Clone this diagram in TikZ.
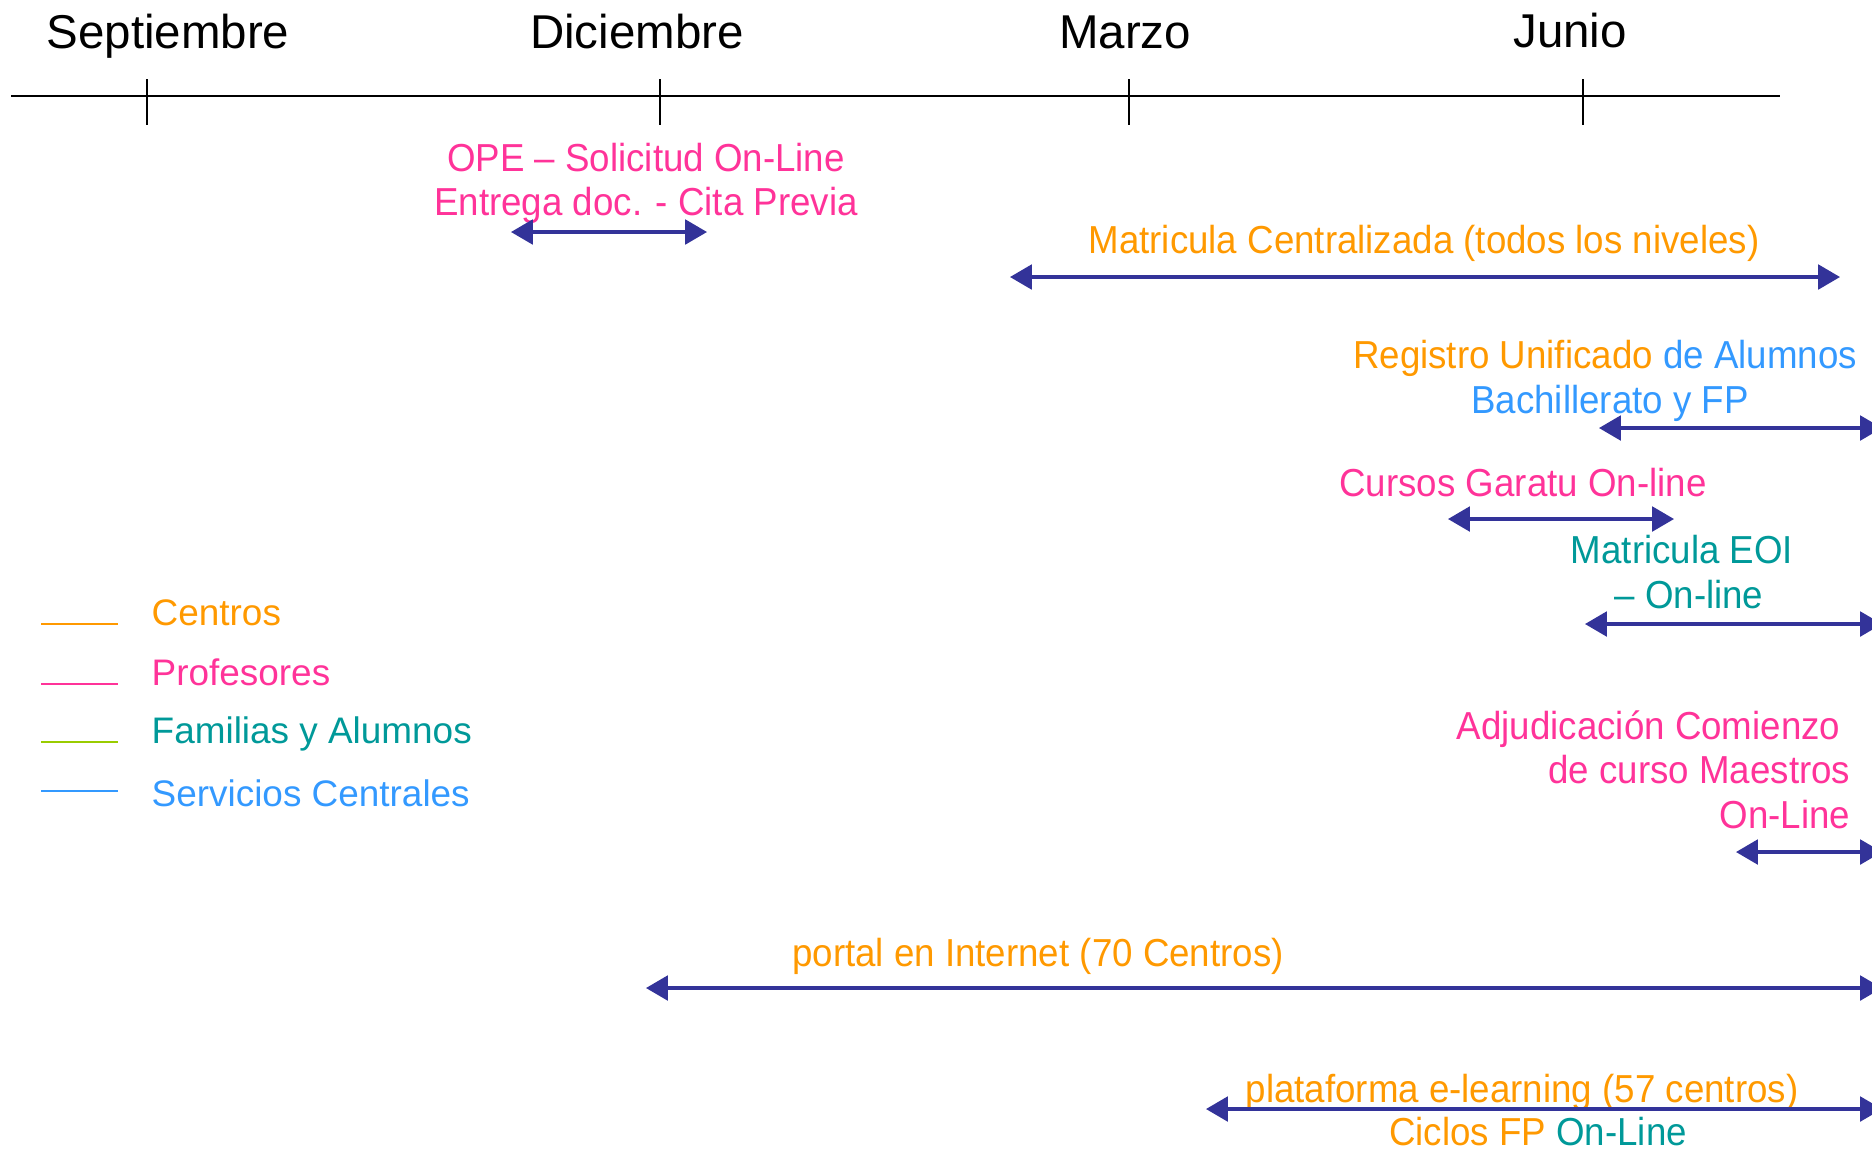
\documentclass[tikz,border=0pt]{standalone}
\usepackage{fontspec}
\setmainfont{Liberation Sans}
\newfontfamily\lblfont[FakeStretch=0.94]{Liberation Sans}
\usetikzlibrary{arrows.meta}
\definecolor{centros}{HTML}{FF9900}
\definecolor{profes}{HTML}{FF3399}
\definecolor{familias}{HTML}{009999}
\definecolor{servicios}{HTML}{3399FF}
\definecolor{verde}{HTML}{99CC00}
\definecolor{flecha}{HTML}{333399}
\tikzset{month/.style={anchor=base, inner sep=0pt, font=\fontsize{13.5}{16}\selectfont},
lbl/.style={anchor=base, inner sep=0pt, font=\lblfont\fontsize{11.1}{13}\selectfont},
legtext/.style={anchor=base west, inner sep=0pt, font=\fontsize{10.5}{12}\selectfont},
legline/.style={line width=0.6pt},
period/.style={arrows={Triangle[length=6.2pt,width=7pt]-Triangle[length=6.2pt,width=7pt]}, draw=flecha, line width=0.9pt},
mtick/.style={line width=0.45pt}}
\begin{document}
\begin{tikzpicture}[x=0.01cm, y=-0.01cm]
        \useasboundingbox (0,0) rectangle (1872,1150);

        \coordinate (axL) at (11,96);
        \coordinate (axR) at (1780,96);
        \draw[line width=0.6pt] (axL) -- (axR);
        \foreach \x/\n in {147/sep, 660/dic, 1129/mar, 1583/jun} {
            \coordinate (\n t) at (\x,79);
            \coordinate (\n b) at (\x,125);
            \draw[mtick] (\n t) -- (\n b);
        }
        \node[month] (sep) at (168,48) {Septiembre};
        \node[month] (dic) at (637,48) {Diciembre};
        \node[month] (mar) at (1125,48) {Marzo};
        \node[month] (jun) at (1570,47) {Junio};

        \node[lbl, text=profes] (ope1) at (646,171) {OPE – Solicitud On-Line};
        \node[lbl, text=profes] (ope2) at (646,215) {Entrega doc. - Cita Previa};
        \coordinate (opeL) at (511,232);
        \coordinate (opeR) at (707,232);

        \node[lbl, text=centros] (mat) at (1424,253) {Matricula Centralizada (todos los niveles)};
        \coordinate (matL) at (1010,277);
        \coordinate (matR) at (1840,277);

        \node[lbl] (reg1) at (1605,368) {\color{centros}Registro Unificado \color{servicios}de Alumnos};
        \node[lbl, text=servicios] (reg2) at (1610,413) {Bachillerato y FP};
        \coordinate (regL) at (1599,428);
        \coordinate (regR) at (1882,428);

        \node[lbl, text=profes] (gar) at (1523,496) {Cursos Garatu On-line};
        \coordinate (garL) at (1448,519);
        \coordinate (garR) at (1674,519);

        \node[lbl, text=familias] (eoi1) at (1682,563) {Matricula EOI};
        \node[lbl, text=familias] (eoi2) at (1689,608) {– On-line};
        \coordinate (eoiL) at (1585,624);
        \coordinate (eoiR) at (1882,624);

        \node[lbl, anchor=base east, text=profes] (adj1) at (1841,739) {Adjudicación Comienzo};
        \node[lbl, anchor=base east, text=profes] (adj2) at (1851,783) {de curso Maestros};
        \node[lbl, anchor=base east, text=profes] (adj3) at (1851,828) {On-Line};
        \coordinate (adjL) at (1736,852);
        \coordinate (adjR) at (1882,852);

        \node[lbl, text=centros] (por) at (1038,966) {portal en Internet (70 Centros)};
        \coordinate (porL) at (646,988);
        \coordinate (porR) at (1882,988);

        \node[lbl, text=centros] (pla) at (1522,1102) {plataforma e-learning (57 centros)};
        \node[lbl] (cic) at (1538,1145) {\color{centros}Ciclos FP \color{familias}On-Line};
        \coordinate (plaL) at (1206,1109);
        \coordinate (plaR) at (1882,1109);

        \draw[period] (opeL) -- (opeR);
        \draw[period] (matL) -- (matR);
        \draw[period] (regL) -- (regR);
        \draw[period] (garL) -- (garR);
        \draw[period] (eoiL) -- (eoiR);
        \draw[period] (adjL) -- (adjR);
        \draw[period] (porL) -- (porR);
        \draw[period] (plaL) -- (plaR);

        \foreach \y/\c/\n in {624/centros/cen, 684/profes/pro, 742/verde/fam, 791/servicios/ser} {
            \coordinate (\n L) at (41,\y);
            \coordinate (\n R) at (118,\y);
            \draw[legline, \c] (\n L) -- (\n R);
        }
        \node[legtext, text=centros] (cen) at (151,625) {Centros};
        \node[legtext, text=profes] (pro) at (151,685) {Profesores};
        \node[legtext, text=familias] (fam) at (151,743) {Familias y Alumnos};
        \node[legtext, text=servicios] (ser) at (151,806) {Servicios Centrales};
    \end{tikzpicture}
\end{document}
